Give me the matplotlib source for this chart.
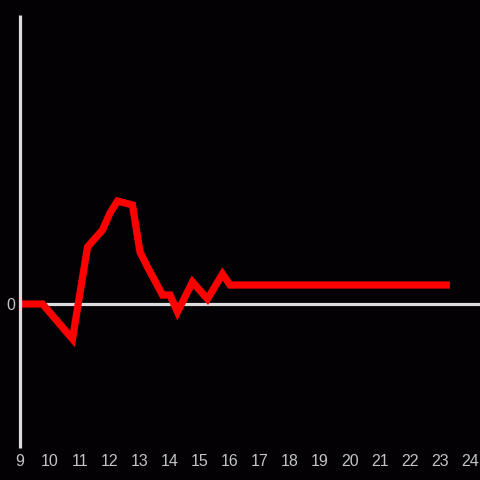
import matplotlib
matplotlib.use("Agg")
import matplotlib.pyplot as plt

# hour of day vs value (arbitrary units)
hours = [9.0, 9.75, 10.75, 11.25, 11.75, 12.0, 12.25, 12.75, 13.0, 13.25,
         13.75, 14.0, 14.25, 14.75, 15.25, 15.75, 16.0, 23.33]
values = [0.0, 0.0, -3.5, 5.7, 7.4, 9.1, 10.3, 9.9, 5.2, 3.7,
          0.9, 0.9, -0.8, 2.2, 0.5, 3.0, 1.9, 1.9]
tick_hours = list(range(9, 25))
tick_labels = [str(h) for h in tick_hours]

bg = '#030104'
axis_color = '#dcdcdc'
text_color = '#c4c4c4'

fig = plt.figure(figsize=(4.8, 4.8), dpi=100, facecolor=bg)
ax = fig.add_axes([0, 0, 1, 1])
ax.set_facecolor(bg)
ax.set_axis_off()

# 30 px per hour, 10 px per unit
ax.set_xlim(9 - 20 / 30, 9 + 460 / 30)
ax.set_ylim(-17.6, 30.4)

# axes lines
ax.plot([9, 9], [-14.4, 28.9], color=axis_color, lw=2.3,
        solid_capstyle='butt', zorder=4)
ax.plot([9, 24.4], [0, 0], color=axis_color, lw=2.3,
        solid_capstyle='butt', zorder=2)

ax.plot(hours, values, color='#ff0000', lw=5.2, solid_joinstyle='miter',
        solid_capstyle='butt', zorder=3)

for h, lab in zip(tick_hours, tick_labels):
    ax.text(h, -15.7, lab, color=text_color, fontsize=11.5,
            family='Liberation Sans', ha='center', va='center')
ax.text(8.85, -0.1, '0', color=text_color, fontsize=11.5,
        family='Liberation Sans', ha='right', va='center')

fig.savefig('out.png', dpi=100, facecolor=bg)
plt.close(fig)
